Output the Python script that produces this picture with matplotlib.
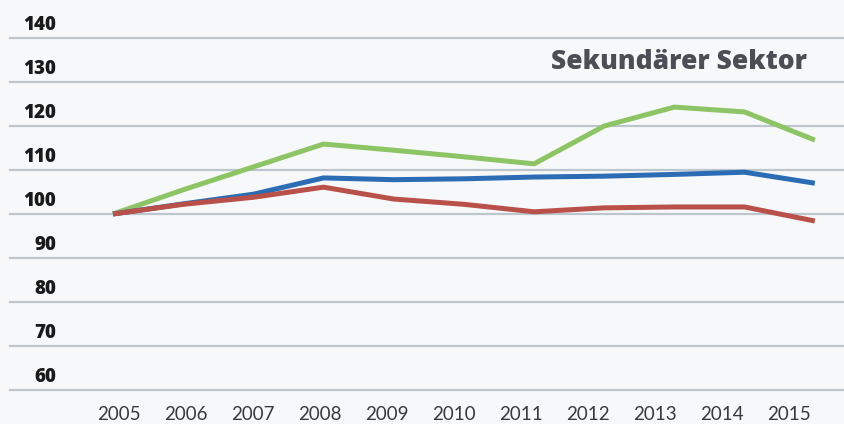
import matplotlib
matplotlib.use("Agg")
import matplotlib.pyplot as plt

# Index 2005 = 100
years = [2005, 2006, 2007, 2008, 2009, 2010, 2011, 2012, 2013, 2014, 2015]
green = [100, 105.5, 110.7, 115.9, 114.5, 113.0, 111.4, 120.0, 124.3, 123.2, 116.8]
blue = [100, 102.3, 104.5, 108.2, 107.8, 108.0, 108.4, 108.6, 109.0, 109.5, 107.0]
red = [100, 102.2, 103.8, 106.1, 103.4, 102.2, 100.5, 101.4, 101.6, 101.6, 98.4]
y_ticks = [60, 70, 80, 90, 100, 110, 120, 130, 140]
title = "Sekundärer Sektor"

bg = "#f7f8f9"
fig = plt.figure(figsize=(8.45, 4.24), dpi=100, facecolor=bg)
ax = fig.add_axes([0, 0, 1, 1], facecolor=bg)
ax.set_xlim(2003.39, 2015.43)
ax.set_ylim(52.27, 148.64)
for s in ax.spines.values():
    s.set_visible(False)
ax.set_xticks([])
ax.set_yticks([])

# horizontal grid, labels sit above each line
for v in y_ticks:
    ax.axhline(v, xmin=10 / 845, xmax=1, color="#bcc6ce", lw=1.6, zorder=1)
    ax.text(2003.39 + 56 / 70.2, v + 2.9, str(v), ha="right", va="center",
            fontsize=13.5, fontweight="heavy", family="Open Sans", color="#1a1a1a")

# year labels along the bottom (label row is a little tighter than the plot)
for yr in years:
    ax.text(yr - (yr - 2005) * 0.045 + 0.08, 52.27 + 10 / 4.4, str(yr),
            ha="center", va="center", fontsize=13.5, family="Lato",
            color="#3a3a3a")

kw = dict(lw=3.6, solid_capstyle="butt", solid_joinstyle="round", zorder=3)
ax.plot(years, green, color="#8dc466", **kw)
ax.plot(years, blue, color="#2b6cb4", **kw)
ax.plot(years, red, color="#b9504a", **kw)

ax.text(2015.43 - 38 / 70.2, 100 + (214 - 62) / 4.4, title, ha="right", va="center",
        fontsize=19, fontweight="heavy", family="Open Sans", color="#4b4e55")

fig.savefig("out.png", dpi=100, facecolor=bg)
